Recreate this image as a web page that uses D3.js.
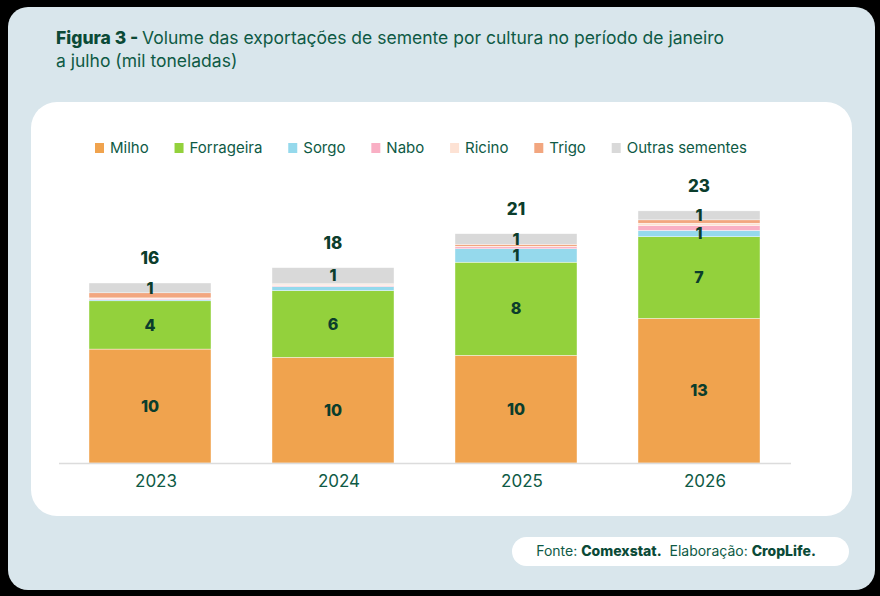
<!DOCTYPE html>
<html>
<head>
<meta charset="utf-8">
<script src="https://cdn.jsdelivr.net/npm/d3@7"></script>
<style>
  body { margin: 0; background: #000; }
  svg { display: block; font-family: Inter, "Noto Sans", sans-serif; }
</style>
</head>
<body>
<div id="chart"></div>
<script>
// data (mil toneladas)
const years = ["2023", "2024", "2025", "2026"];
const seriesNames = ["Milho", "Forrageira", "Sorgo", "Nabo", "Ricino", "Trigo", "Outras sementes"];
const milho = [10.4, 9.65, 9.83, 13.2];
const forrageira = [4.4, 6.08, 8.5, 7.45];
const sorgo = [0.1, 0.37, 1.22, 0.58];
const nabo = [0.12, 0.1, 0.18, 0.42];
const ricino = [0.05, 0.12, 0.05, 0.24];
const trigo = [0.46, 0.05, 0.18, 0.3];
const outras = [0.9, 1.46, 0.97, 0.82];
const colors = ["#f0a34e", "#93d13c", "#95d9ec", "#f9afc4", "#fde2d4", "#f2a67f", "#d9d9d9"];

const width = 880, height = 596;
const svg = d3.select("#chart").append("svg")
    .attr("width", width)
    .attr("height", height);

//panels
svg.append("rect").attr("x", 8).attr("y", 7).attr("width", 867).attr("height", 583)
    .attr("rx", 20).attr("fill", "#d9e6ec");
svg.append("rect").attr("x", 31).attr("y", 102).attr("width", 821).attr("height", 414)
    .attr("rx", 26).attr("fill", "#fff");

//title
const title = svg.append("text").attr("x", 56).attr("y", 44)
    .attr("font-size", 17.5).attr("fill", "#0e5a45");
title.append("tspan").attr("font-weight", 800).attr("fill", "#0b4a37").text("Figura 3 - ");
title.append("tspan").text("Volume das exportações de semente por cultura no período de janeiro");
svg.append("text").attr("x", 56).attr("y", 67)
    .attr("font-size", 17.5).attr("fill", "#0e5a45")
    .text("a julho (mil toneladas)");

//stack
const rows = years.map(function(y, i) {
    return {
        year: y,
        "Milho": milho[i], "Forrageira": forrageira[i], "Sorgo": sorgo[i], "Nabo": nabo[i],
        "Ricino": ricino[i], "Trigo": trigo[i], "Outras sementes": outras[i]
    };
});
const stacked = d3.stack().keys(seriesNames)(rows);

//scales
const xScale = d3.scaleBand().domain(years).range([58.5, 790.5])
    .paddingInner(1 / 3).paddingOuter(1 / 6);
const yScale = d3.scaleLinear().domain([0, 23]).range([463, 211]);

//bars
const groups = svg.selectAll("g.series").data(stacked).enter().append("g")
    .attr("class", "series")
    .attr("fill", function(d, i) { return colors[i]; });
groups.selectAll("rect").data(function(d) { return d; }).enter().append("rect")
    .attr("x", function(d) { return xScale(d.data.year); })
    .attr("y", function(d) { return yScale(d[1]); })
    .attr("width", xScale.bandwidth())
    .attr("height", function(d) { return yScale(d[0]) - yScale(d[1]); })
    .attr("stroke", "#fff").attr("stroke-width", 0.4);

//segment labels (drawn after all bars)
const segs = [];
stacked.forEach(function(s) {
    s.forEach(function(p) { if (Math.round(p[1] - p[0]) >= 1) segs.push(p); });
});
svg.append("g").selectAll("text").data(segs).enter().append("text")
    .attr("x", function(d) { return xScale(d.data.year) + xScale.bandwidth() / 2; })
    .attr("y", function(d) { return (yScale(d[0]) + yScale(d[1])) / 2; })
    .attr("dy", "0.36em")
    .attr("text-anchor", "middle")
    .attr("font-size", 16).attr("font-weight", 800).attr("fill", "#0b3d2c")
    .text(function(d) { return Math.round(d[1] - d[0]); });

//totals
const topLayer = stacked[stacked.length - 1];
svg.selectAll("text.total").data(topLayer).enter().append("text")
    .attr("class", "total")
    .attr("x", function(d) { return xScale(d.data.year) + xScale.bandwidth() / 2; })
    .attr("y", function(d) { return yScale(d[1]) - 25; })
    .attr("dy", "0.36em")
    .attr("text-anchor", "middle")
    .attr("font-size", 17).attr("font-weight", 800).attr("fill", "#0b3d2c")
    .text(function(d) { return Math.round(d[1]); });

//x axis
const xAxis = svg.append("g")
    .attr("transform", "translate(0,463)")
    .call(d3.axisBottom(xScale).tickSize(0).tickPadding(12));
xAxis.select(".domain").attr("stroke", "#dcdcdc").attr("stroke-width", 1.5);
xAxis.selectAll("text")
    .attr("font-family", "Inter, sans-serif")
    .attr("font-size", 17).attr("fill", "#0e5a45").attr("dx", 6);

//legend
const legend = svg.append("g").attr("transform", "translate(95,148)");
const items = legend.selectAll("g").data(seriesNames).enter().append("g");
items.append("rect").attr("y", -5).attr("width", 9).attr("height", 10)
    .attr("fill", function(d, i) { return colors[i]; });
items.append("text").attr("x", 15).attr("dy", "0.35em")
    .attr("font-size", 15).attr("fill", "#0e5a45")
    .text(function(d) { return d; });
const widths = [];
items.each(function() { widths.push(15 + d3.select(this).select("text").node().getComputedTextLength()); });
const gap = (652 - d3.sum(widths)) / (widths.length - 1);
let lx = 0;
items.attr("transform", function(d, i) {
    const t = "translate(" + lx + ",0)";
    lx += widths[i] + gap;
    return t;
});

//source
svg.append("rect").attr("x", 512).attr("y", 537).attr("width", 337).attr("height", 29)
    .attr("rx", 14.5).attr("fill", "#fff");
const src = svg.append("text").attr("x", 676).attr("y", 551.5).attr("dy", "0.35em")
    .attr("text-anchor", "middle").attr("font-size", 14).attr("fill", "#0e5a45");
src.append("tspan").text("Fonte: ");
src.append("tspan").attr("font-weight", 800).attr("fill", "#0b4a37").text("Comexstat.");
src.append("tspan").text("\u00a0 Elaboração: ");
src.append("tspan").attr("font-weight", 800).attr("fill", "#0b4a37").text("CropLife.");
</script>
</body>
</html>
